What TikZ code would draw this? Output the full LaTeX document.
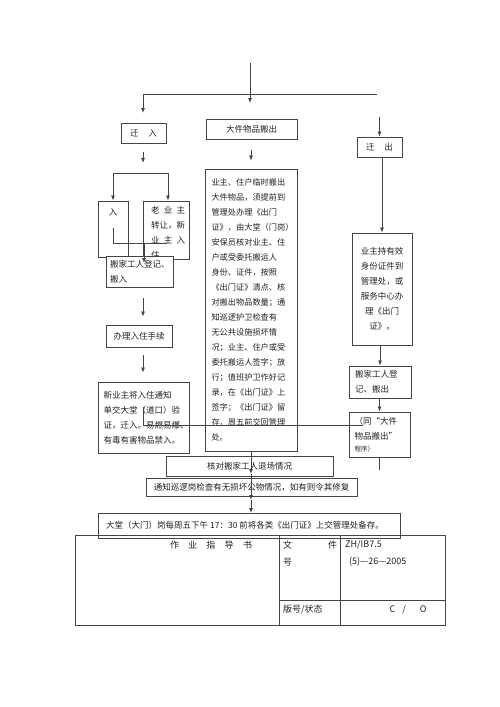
\documentclass[tikz,border=0pt]{standalone}
\usepackage{fontspec}
\setmainfont{Noto Sans CJK SC}
\usetikzlibrary{arrows.meta,calc}
\definecolor{lncol}{HTML}{444444}
\definecolor{txcol}{HTML}{222222}
\tikzset{
  bx/.style={draw=lncol, line width=0.9pt, fill=white, inner sep=0pt, text=txcol, font=\fontsize{8.5}{15}\selectfont},
  tt/.style={inner sep=0pt, text=txcol, font=\fontsize{8.5}{15}\selectfont},
  arr/.style={draw=lncol, line width=0.8pt, -{Latex[length=5pt,width=4pt]}},
  pl/.style={draw=lncol, line width=0.8pt},
}
\begin{document}
\begin{tikzpicture}[x=1pt,y=-1pt]
\useasboundingbox (0,0) rectangle (500,707);
\fill[white] (0,0) rectangle (500,707);

% top branch
\coordinate (top) at (250,63);
\coordinate (topend) at (250,103);
\coordinate (hl) at (143,94);
\coordinate (hr) at (377,94);
\coordinate (la) at (143,113);
\draw[arr] (top) -- (topend);
\draw[pl] (hl) -- (hr);
\draw[arr] (hl) -- (la);

\node[bx, minimum width=45pt, minimum height=20pt] (qianru) at (143.5,133) {迁\hspace{10pt}入};
\node[bx, minimum width=91pt, minimum height=20pt] (dajian) at (251.5,129) {大件物品搬出};
\node[bx, minimum width=45pt, minimum height=20pt] (qianchu) at (379.5,147) {迁\hspace{10pt}出};

\coordinate (rq) at (379.5,117);
\draw[arr] (rq) -- (qianchu.north);

% left column
\coordinate (qa1) at (143,152);
\coordinate (qa2) at (143,163);
\draw[arr] (qa1) -- (qa2);

\node[bx, minimum width=30pt, minimum height=56pt] (ru) at (113,229) {};
\node[tt] (rut) at (113,212) {入};
\node[bx, minimum width=46pt, minimum height=58pt] (lao) at (166,230) {};
\node[tt, anchor=north west, align=left] (laot) at (151,206)
  {\makebox[34pt][s]{老\hfill 业\hfill 主}\\转让，新\\\makebox[34pt][s]{业\hfill 主\hfill 入}\\住};

\coordinate (s1) at (113,173);
\coordinate (s2) at (168,173);
\draw[arr] (s1) -- (ru.north);
\draw[pl] (s1) -- (s2);
\draw[arr] (s2) -- (lao.north -| s2);

\coordinate (k1) at (113,228);
\coordinate (k2) at (113,243);
\coordinate (k3) at (167,243);
\coordinate (k4) at (144,243);
\coordinate (k5) at (144,263);
\draw[pl] (k1) -- (k2) -- (k3);

\node[bx, minimum width=67pt, minimum height=31pt, align=left, text width=59pt] (bjin) at (139.5,271.5) {搬家工人登记、\\搬入};
\draw[arr] (k4) -- (k5);

\node[bx, minimum width=66pt, minimum height=22pt] (banli) at (139,336) {办理入住手续};
\draw[arr] ($(bjin.south)+(3.5,11)$) -- ($(banli.north)+(4,-8)$);

\node[bx, minimum width=91pt, minimum height=71pt, align=left, text width=80pt] (xin) at (143.5,417.5)
  {新业主将入住通知\\单交大堂（道口）验\\证，迁入。易燃易爆、\\有毒有害物品禁入。};
\draw[arr] ($(banli.south)+(4,8)$) -- ($(xin.north)+(-0.5,-9)$);

% middle column
\node[bx, minimum width=92pt, minimum height=282pt, align=left, text width=79pt, font=\fontsize{8.2}{15}\selectfont] (big) at (251,310)
  {业主、住户临时搬出\\大件物品，须提前到\\管理处办理《出门\\证》，由大堂（门岗）\\安保员核对业主、住\\户或受委托搬运人\\身份、证件，按照\\《出门证》清点、核\\对搬出物品数量；通\\知巡逻护卫检查有\\无公共设施损坏情\\况；业主、住户或受\\委托搬运人签字；放\\行；值班护卫作好记\\录，在《出门证》上\\签字；《出门证》留\\存，周五前交回管理\\处。};
\draw[arr] ($(dajian.south)+(-0.5,11)$) -- ($(big.north)+(0,-8)$);

% right column
\node[bx, minimum width=60pt, minimum height=112pt, align=center] (r1) at (382,289)
  {业主持有效\\身份证件到\\管理处，或\\服务中心办\\理《出门\\证》。};
\draw[arr] (qianchu.south -| r1.north) -- (r1.north);
\node[bx, minimum width=62pt, minimum height=32pt, align=left, text width=50pt] (bjout) at (380,382) {搬家工人登\\记、搬出};
\draw[arr] (r1.south -| bjout.north) -- (bjout.north);
\node[bx, minimum width=61pt, minimum height=45pt, align=left, text width=50pt] (tong) at (379.5,434.5)
  {（同“大件\\物品搬出”\\[-3pt]{\fontsize{6.5}{8}\selectfont 程序）}};
\draw[arr] (bjout.south -| tong.north) -- (tong.north);
\coordinate (tend) at (379.5,470);
\draw[pl] (tong.south) -- (tend);

% stray lines
\coordinate (x1) at (143,407);
\coordinate (x2) at (143,425);
\coordinate (x3) at (363,425);
\draw[pl] (x1) -- (x2) -- (x3);

% bottom
\node[bx, minimum width=167pt, minimum height=20pt] (hedui) at (249.5,466) {核对搬家工人退场情况};
\node[bx, minimum width=211pt, minimum height=18pt] (tz) at (251.5,487) {通知巡逻岗检查有无损坏公物情况，如有则令其修复};
\coordinate (m1) at (251,474);
\coordinate (m2) at (251,500);
\draw[arr] (big.south -| m1) -- (m1);
\draw[arr] (m1) -- (m2);

\node[bx, fill=none, minimum width=302pt, minimum height=25pt, anchor=north west] (datang) at (98,513) {};
\node[tt, anchor=west] (datangt) at (106,525) {大堂（大门）岗每周五下午 17：30 前将各类《出门证》上交管理处备存。};
\draw[arr] (m2) -- (datang.north -| m2);

% table
\node[draw=lncol, line width=0.9pt, minimum width=370pt, minimum height=90pt, inner sep=0pt] (tab) at (260,580) {};
\draw[pl] (279,535) -- (279,625);
\draw[pl] (340,535) -- (340,625);
\draw[pl] (279,600) -- (445,600);
\node[tt, font=\fontsize{9}{11}\selectfont] (t1) at (211,545) {\makebox[82pt][s]{作\hfill 业\hfill 指\hfill 导\hfill 书}};
\node[tt, font=\fontsize{9}{11}\selectfont] (t2) at (310,545) {\makebox[54pt][s]{文\hfill 件}};
\node[tt, font=\fontsize{9}{11}\selectfont, anchor=west] (t3) at (283,562) {号};
\node[tt, font=\fontsize{9}{11}\selectfont, anchor=west] (t4) at (345,545) {ZH/IB7.5};
\node[tt, font=\fontsize{9}{11}\selectfont, anchor=west] (t5) at (349,562) {(5)—26—2005};
\node[tt, font=\fontsize{9}{11}\selectfont, anchor=west] (t6) at (283,610) {版号/状态};
\node[tt, font=\fontsize{9}{11}\selectfont] (t7) at (408,610) {\makebox[37pt][s]{C\hfill /\hfill\hfill O}};
\end{tikzpicture}
\end{document}
